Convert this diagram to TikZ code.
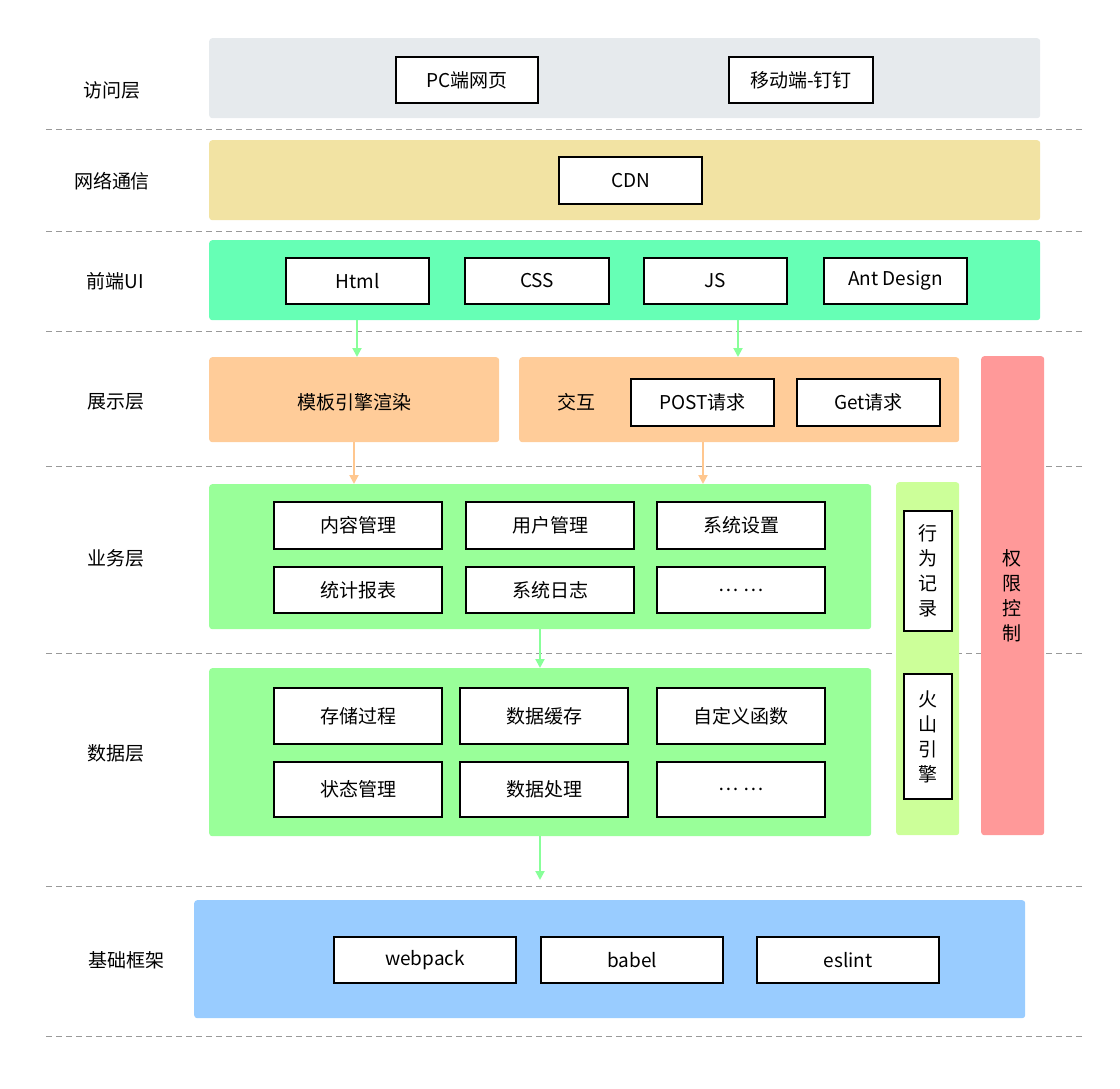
\documentclass[tikz,border=0pt]{standalone}
\usepackage{fontspec}
\setmainfont{Noto Sans CJK SC}
\usetikzlibrary{arrows.meta}
\definecolor{cgray}{HTML}{E6EAED}
\definecolor{cyel}{HTML}{F2E3A3}
\definecolor{cteal}{HTML}{66FFB5}
\definecolor{corg}{HTML}{FFCC99}
\definecolor{cgrn}{HTML}{99FF99}
\definecolor{clime}{HTML}{CCFF99}
\definecolor{cred}{HTML}{FF9999}
\definecolor{cblue}{HTML}{99CCFF}
\definecolor{agrn}{HTML}{88FF99}
\definecolor{aorg}{HTML}{FFC78F}
\tikzset{
 band/.style={draw=none,rounded corners=3pt,fill=#1},
 box/.style={draw=black,line width=2pt,fill=white,font=\fontsize{19}{22}\selectfont},
 lab/.style={font=\fontsize{19}{22}\selectfont},
 sep/.style={draw=gray!80,dashed,dash pattern=on 6pt off 4pt,line width=1pt},
 arr/.style={-{Triangle[length=9pt,width=9pt]},line width=2pt,draw=#1}
}
\newcommand{\rbox}[6]{\node[#1,minimum width=#4-#2,minimum height=#5-#3,anchor=north west,inner sep=0pt] (#6) at (#2,#3) {};}
\begin{document}
\begin{tikzpicture}[x=1pt,y=-1pt]
\useasboundingbox (0,0) rectangle (1120,1089);
\foreach \y in {130,231,331,466,653,886,1036} \draw[sep] (46,\y) -- (1083,\y);
% bands
\rbox{band=cgray}{209}{38}{1040}{118}{b1}
\rbox{band=cyel}{209}{140}{1040}{220}{b2}
\rbox{band=cteal}{209}{240}{1040}{320}{b3}
\rbox{band=corg}{209}{357}{499}{442}{b4a}
\rbox{band=corg}{519}{357}{959}{442}{b4b}
\rbox{band=cgrn}{209}{484}{871}{629}{b5}
\rbox{band=cgrn}{209}{668}{871}{836}{b6}
\rbox{band=clime}{896}{482}{959}{835}{side}
\rbox{band=cred}{981}{356}{1044}{835}{perm}
\rbox{band=cblue}{194}{900}{1025}{1018}{b7}
% labels
\node[lab] (l1) at (112,90) {访问层};
\node[lab] (l2) at (112,181) {网络通信};
\node[lab] (l3) at (115,281) {前端UI};
\node[lab] (l4) at (116,402) {展示层};
\node[lab] (l5) at (116,558) {业务层};
\node[lab] (l6) at (116,753) {数据层};
\node[lab] (l7) at (126,960) {基础框架};
% boxes
\newcommand{\tb}[6]{\rbox{box}{#1}{#2}{#3}{#4}{#5}\node[box,draw=none,fill=none] at (#5.center) {#6};}
\tb{395}{56}{537}{102}{pc}{PC端网页}
\tb{728}{56}{872}{102}{mob}{移动端-钉钉}
\tb{558}{156}{701}{203}{cdn}{CDN}
\tb{285}{257}{428}{303}{html}{Html}
\tb{464}{257}{608}{303}{css}{CSS}
\tb{643}{257}{786}{303}{js}{JS}
\tb{823}{257}{966}{303}{ant}{Ant Design}
\node[lab] (tpl) at (354,402) {模板引擎渲染};
\node[lab] (jh) at (576,402) {交互};
\tb{630}{378}{773}{425}{post}{POST请求}
\tb{796}{378}{939}{425}{get}{Get请求}
\tb{273}{501}{441}{548}{s1}{内容管理}
\tb{465}{501}{633}{548}{s2}{用户管理}
\tb{656}{501}{824}{548}{s3}{系统设置}
\tb{273}{566}{441}{612}{s4}{统计报表}
\tb{465}{566}{633}{612}{s5}{系统日志}
\tb{656}{566}{824}{612}{s6}{… …}
\tb{273}{687}{441}{743}{d1}{存储过程}
\tb{459}{687}{627}{743}{d2}{数据缓存}
\tb{656}{687}{824}{743}{d3}{自定义函数}
\tb{273}{761}{441}{816}{d4}{状态管理}
\tb{459}{761}{627}{816}{d5}{数据处理}
\tb{656}{761}{824}{816}{d6}{… …}
\tb{333}{936}{515}{982}{wp}{webpack}
\tb{540}{936}{722}{982}{bb}{babel}
\tb{756}{936}{938}{982}{es}{eslint}
\rbox{box}{903}{510}{951}{630}{xw}
\node[box,draw=none,fill=none,align=center,font=\fontsize{19}{25}\selectfont] at (xw.center) {行\\为\\记\\录};
\rbox{box}{903}{673}{951}{798}{hs}
\node[box,draw=none,fill=none,align=center,font=\fontsize{19}{25}\selectfont] at (hs.center) {火\\山\\引\\擎};
\node[lab,align=center,font=\fontsize{19}{25}\selectfont] at (1012,596) {权\\限\\控\\制};
% arrows
\coordinate (a1) at (357,320); \coordinate (a1e) at (357,357);
\coordinate (a2) at (738,320); \coordinate (a2e) at (738,357);
\draw[arr=agrn] (a1) -- (a1e);
\draw[arr=agrn] (a2) -- (a2e);
\coordinate (o1) at (354,442); \coordinate (o1e) at (354,484);
\coordinate (o2) at (703,442); \coordinate (o2e) at (703,484);
\draw[arr=aorg] (o1) -- (o1e);
\draw[arr=aorg] (o2) -- (o2e);
\coordinate (g1) at (540,629); \coordinate (g1e) at (540,668);
\coordinate (g2) at (540,836); \coordinate (g2e) at (540,880);
\draw[arr=agrn] (g1) -- (g1e);
\draw[arr=agrn] (g2) -- (g2e);
\end{tikzpicture}
\end{document}
